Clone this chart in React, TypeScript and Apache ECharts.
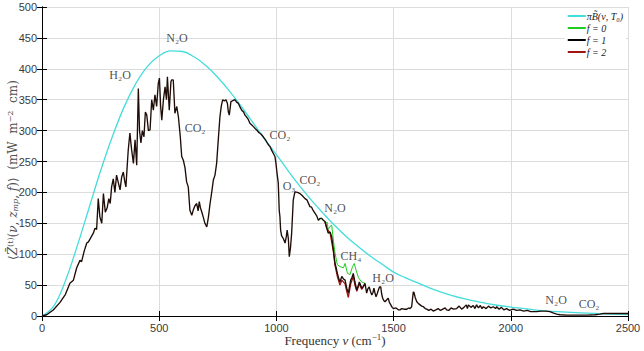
import React, { useEffect, useRef } from "react";
import * as echarts from "echarts";

// Wavenumber grid and values
const planckNu = [0, 50, 100, 150, 200, 250, 300, 350, 400, 450, 500, 550, 600, 650, 700, 750, 800, 850, 900, 950, 1000, 1050, 1100, 1150, 1200, 1250, 1300, 1350, 1400, 1450, 1500, 1550, 1600, 1650, 1700, 1750, 1800, 1850, 1900, 1950, 2000, 2100, 2200, 2300, 2400, 2500];
const planckVal = [0, 16, 57, 113, 174, 235, 290, 338, 376, 404, 421, 429, 428, 419, 405, 386, 364, 339, 313, 286, 261, 235, 210, 187, 166, 146, 128, 112, 97, 84, 71, 62, 54, 46, 39, 33, 28, 24, 20, 17, 14.5, 10, 7, 5, 3.4, 2.4];

const f1Nu = [0, 20, 48, 77, 100, 119, 134, 148, 162, 169, 180, 191, 198, 210, 219, 226, 233, 240, 247, 255, 262, 270, 278, 285, 291, 297, 304, 311, 318, 326, 333, 340, 347, 353, 358, 363, 368, 375, 382, 390, 397, 404, 411, 416, 422, 428, 435, 441, 447, 454, 461, 468, 475, 482, 489, 496, 501, 506, 511, 518, 525, 531, 535, 543, 550, 553, 560, 567, 575, 582, 590, 596, 603, 610, 617, 624, 631, 639, 645, 652, 660, 666, 671, 676, 681, 688, 695, 703, 710, 717, 724, 731, 738, 745, 752, 759, 765, 771, 778, 785, 791, 795, 799, 806, 812, 823, 830, 838, 845, 852, 860, 866, 873, 880, 887, 895, 903, 910, 916, 925, 935, 944, 955, 966, 973, 980, 987, 994, 998, 1003, 1008, 1012, 1015, 1018, 1022, 1030, 1037, 1042, 1046, 1051, 1055, 1060, 1065, 1072, 1079, 1090, 1101, 1110, 1122, 1130, 1143, 1150, 1158, 1165, 1172, 1179, 1186, 1193, 1200, 1207, 1215, 1221, 1229, 1236, 1243, 1250, 1255, 1260, 1265, 1271, 1279, 1286, 1293, 1300, 1307, 1312, 1317, 1322, 1328, 1335, 1343, 1348, 1354, 1359, 1364, 1371, 1378, 1385, 1390, 1396, 1401, 1407, 1412, 1416, 1420, 1425, 1430, 1435, 1440, 1445, 1449, 1453, 1458, 1463, 1470, 1477, 1482, 1488, 1494, 1499, 1510, 1520, 1527, 1535, 1545, 1556, 1565, 1570, 1577, 1584, 1587, 1592, 1599, 1606, 1613, 1620, 1627, 1635, 1641, 1650, 1660, 1669, 1680, 1690, 1700, 1710, 1720, 1726, 1735, 1745, 1755, 1769, 1780, 1790, 1800, 1810, 1815, 1819, 1830, 1840, 1847, 1854, 1862, 1870, 1877, 1883, 1895, 1905, 1915, 1925, 1935, 1940, 1950, 1960, 1970, 1982, 1995, 2010, 2025, 2039, 2055, 2070, 2085, 2096, 2110, 2130, 2150, 2167, 2180, 2196, 2210, 2239, 2280, 2324, 2360, 2380, 2395, 2437, 2500];
const f1Val = [0, 2, 9.7, 22, 35, 53, 58, 78, 90, 88, 105, 118, 120, 128, 134, 142, 140, 190, 160, 150, 198, 168, 175, 190, 182, 209, 222, 200, 228, 215, 204, 225, 233, 218, 209, 240, 269, 296, 270, 247, 285, 244, 368, 300, 280, 300, 290, 330, 325, 300, 301, 350, 333, 358, 339, 376, 385, 340, 317, 350, 371, 350, 387, 333, 379, 382, 382, 328, 339, 322, 290, 258, 252, 240, 217, 209, 171, 163, 171, 178, 182, 170, 185, 175, 169, 160, 150, 144, 160, 182, 200, 220, 228, 247, 285, 322, 340, 350, 348, 350, 344, 330, 325, 347, 348, 350, 346, 344, 338, 333, 330, 325, 322, 318, 312, 309, 306, 303, 301, 297, 294, 290, 284, 277, 274, 268, 263, 258, 247, 230, 215, 171, 161, 139, 130, 125, 118, 128, 139, 125, 96, 110, 134, 188, 201, 200, 198, 195, 190, 188, 177, 176, 170, 166, 162, 155, 158, 158, 155, 153, 142, 134, 136, 128, 107, 85, 78, 69, 62, 55, 64, 60, 58, 45, 37, 48, 58, 62, 69, 55, 42, 48, 55, 50, 45, 48, 53, 37, 44, 47, 40, 34, 38, 45, 38, 31, 36, 42, 47, 47, 36, 29, 25, 23, 26, 29, 22, 18, 14, 12, 13, 10, 10, 12, 11, 11, 13, 12, 15, 39, 38, 30, 23, 20, 18, 16, 15, 12, 11, 9, 11, 8, 10, 12, 9, 11, 13, 10, 9, 13, 11, 12, 16, 11, 14, 18, 12, 18, 14, 17, 12, 18, 13, 17, 12, 15, 12, 16, 13, 15, 12, 15, 11, 14, 10, 12, 9, 11, 9, 10, 8, 9, 7, 7, 7, 8, 8, 7, 5, 3, 2, 1.5, 1.5, 1.5, 2, 3, 4, 4, 4];

const f0Nu = [1179, 1193, 1207, 1212, 1216, 1221, 1229, 1236, 1243, 1250, 1260, 1271, 1286, 1293, 1303, 1314, 1325, 1332, 1340, 1350, 1364, 1378];
const f0Val = [155, 158, 153, 150, 152, 140, 145, 147, 123, 102, 83, 80, 78, 85, 69, 67, 80, 85, 74, 62, 55, 53];

const f2Nu = [1207, 1215, 1229, 1243, 1250, 1260, 1271, 1279, 1293, 1300, 1307, 1317, 1328, 1335, 1343, 1354, 1364, 1378];
const f2Val = [153, 142, 134, 105, 82, 64, 50, 58, 52, 40, 30, 52, 64, 50, 40, 52, 43, 52];

const gasNames = ["H₂O", "N₂O", "CO₂", "CO₂", "O₃", "CO₂", "N₂O", "CH₄", "H₂O", "N₂O", "CO₂"];
const gasNu = [333, 576, 653, 1015, 1054, 1143, 1250, 1318, 1455, 2193, 2334];
const gasVal = [390, 450, 304, 293, 210, 220, 175, 97, 61, 26, 19];

const legendNames = ["πB̃(ν, T₀)", "f = 0", "f = 1", "f = 2"];
const xTitle = "Frequency {i|ν} (cm{sup|−1})";
const yTitle = "⟨{i|Z̄}{sup|(t)}({i|ν}, {i|z}{isub|mp}, {i|f})⟩  (mW  m{sup|−2}  cm)";

const zip = (a: number[], b: number[]) => a.map((v, i) => [v, b[i]]);

export default function App() {
  const ref = useRef<HTMLDivElement>(null);
  useEffect(() => {
    if (!ref.current) return;
    const chart = echarts.init(ref.current, undefined, { renderer: "svg" });
    const serif = "Liberation Serif";
    const wide = "DejaVu Serif";
    const tickLabel = {
      fontFamily: "Liberation Sans",
      fontSize: 11,
      color: "#3a3a3a",
      formatter: (v: number) => String(v),
    };
    const richX = {
      i: { fontFamily: serif, fontStyle: "italic", fontSize: 13, fill: "#333" },
      sup: { fontFamily: serif, fontSize: 9, fill: "#333", padding: [0, 0, 6, 0] },
    };
    const richY = {
      i: { fontFamily: wide, fontStyle: "italic", fontSize: 12, fill: "#505050" },
      sup: { fontFamily: wide, fontSize: 8, fill: "#505050", padding: [0, 0, 6, 0] },
      isub: { fontFamily: wide, fontStyle: "italic", fontSize: 8, fill: "#505050", padding: [5, 0, 0, 0] },
    };
    const axisLine = { show: true, lineStyle: { color: "#000", width: 1 } };
    const tick = { show: true, inside: true, length: 5, lineStyle: { color: "#000" } };
    chart.setOption({
      animation: false,
      backgroundColor: "#fff",
      grid: { left: 42, right: 16, top: 7, bottom: 35, containLabel: false, outerBoundsMode: "none" },
      legend: {
        data: legendNames,
        orient: "vertical",
        right: 18,
        top: 9,
        itemGap: 2,
        itemWidth: 18,
        itemHeight: 2,
        icon: "rect",
        backgroundColor: "#fff",
        padding: [2, 3, 2, 3],
        textStyle: { fontFamily: serif, fontStyle: "italic", fontSize: 10, color: "#222", padding: [0, 0, 0, -4] },
      },
      graphic: [
        {
          type: "text",
          x: 335,
          y: 340,
          silent: true,
          style: {
            text: xTitle,
            fontFamily: serif,
            fontSize: 13,
            fill: "#333",
            align: "center",
            verticalAlign: "middle",
            rich: richX,
          },
        },
        {
          type: "text",
          x: 13,
          y: 170,
          rotation: Math.PI / 2,
          silent: true,
          style: {
            text: yTitle,
            fontFamily: wide,
            fontSize: 12,
            fill: "#505050",
            align: "center",
            verticalAlign: "middle",
            rich: richY,
          },
        },
      ],
      xAxis: [
        {
          type: "value",
          min: 0,
          max: 2500,
          interval: 500,
          position: "bottom",
          axisLine,
          axisTick: tick,
          axisLabel: { ...tickLabel, margin: 6 },
          splitLine: { show: true, lineStyle: { color: "#dcdcdc", width: 1 } },
        },
        {
          type: "value",
          min: 0,
          max: 2500,
          interval: 500,
          position: "top",
          axisLine,
          axisTick: tick,
          axisLabel: { show: false },
          splitLine: { show: false },
        },
      ],
      yAxis: [
        {
          type: "value",
          min: 0,
          max: 500,
          interval: 50,
          position: "left",
          axisLine,
          axisTick: tick,
          axisLabel: { ...tickLabel, margin: 5 },
          splitLine: { show: true, lineStyle: { color: "#dcdcdc", width: 1 } },
        },
        {
          type: "value",
          min: 0,
          max: 500,
          interval: 50,
          position: "right",
          axisLine,
          axisTick: tick,
          axisLabel: { show: false },
          splitLine: { show: false },
        },
      ],
      series: [
        {
          name: legendNames[0],
          type: "line",
          data: zip(planckNu, planckVal),
          smooth: 0.4,
          showSymbol: false,
          itemStyle: { color: "#45dcdc" },
          lineStyle: { color: "#45dcdc", width: 1.3 },
          z: 3,
        },
        {
          name: legendNames[1],
          type: "line",
          data: zip(f0Nu, f0Val),
          showSymbol: false,
          itemStyle: { color: "#1fcc1f" },
          lineStyle: { color: "#1fcc1f", width: 1 },
          z: 4,
        },
        {
          name: legendNames[3],
          type: "line",
          data: zip(f2Nu, f2Val),
          showSymbol: false,
          itemStyle: { color: "#a31515" },
          lineStyle: { color: "#a31515", width: 1.3 },
          z: 5,
        },
        {
          name: legendNames[2],
          type: "line",
          data: zip(f1Nu, f1Val),
          showSymbol: false,
          itemStyle: { color: "#000" },
          lineStyle: { color: "#1e0c06", width: 1.35 },
          z: 6,
        },
        {
          name: "labels",
          type: "scatter",
          silent: true,
          symbolSize: 0,
          data: gasNames.map((n, i) => ({ name: n, value: [gasNu[i], gasVal[i]] })),
          label: {
            show: true,
            position: "inside",
            formatter: "{b}",
            fontFamily: serif,
            fontSize: 12,
            color: "#222",
          },
          z: 7,
        },
      ],
    });
    return () => chart.dispose();
  }, []);
  return <div ref={ref} style={{ position: "fixed", left: 0, top: 0, width: 644, height: 351 }} />;
}
